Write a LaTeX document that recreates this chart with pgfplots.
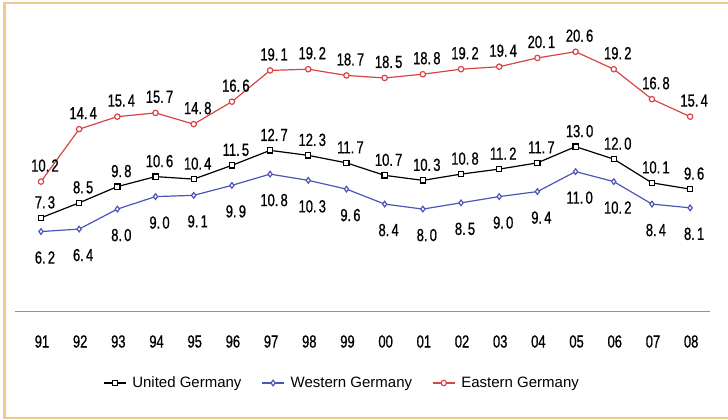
\documentclass[border=0pt]{standalone}
\usepackage{pgfplots}
\pgfplotsset{compat=1.18}
\usepackage{fontspec}
\setmainfont{Liberation Sans}
\newfontfamily\lblfont{Liberation Sans}[FakeStretch=0.74, FakeBold=0.8]
\definecolor{redc}{HTML}{D94444}
\definecolor{bluec}{HTML}{4B56B8}
\definecolor{framec}{HTML}{F1C98E}
\definecolor{axlc}{HTML}{9C8F85}
\begin{document}
\begin{tikzpicture}
\useasboundingbox (0,0) rectangle (728bp,420bp);
\draw[framec, line width=2.6bp] (728bp,2bp) -- (4.7bp,2bp) -- (4.7bp,417bp) -- (728bp,417bp);
\begin{axis}[
  scale only axis, width=695bp, height=302.25bp,
  at={(15bp,108.5bp)}, anchor=south west,
  xmin=-0.68, xmax=17.52, ymin=-0.2, ymax=24,
  axis x line*=bottom, axis y line=none,
  x axis line style={draw=axlc, line width=1bp},
  xtick={0,...,17},
  xticklabels={91,92,93,94,95,96,97,98,99,00,01,02,03,04,05,06,07,08},
  major tick length=0pt, ytick=\empty,
  xticklabel style={font=\lblfont\fontsize{17.5bp}{19bp}\selectfont, anchor=center, yshift=-30bp, xshift=1bp},
  clip=false,
  legend columns=3,
  legend style={at={(0.4705,-0.2366)}, anchor=center, draw=none, fill=none,
    font=\fontsize{15bp}{17bp}\selectfont,
    nodes={inner xsep=2bp},
    /tikz/every odd column/.append style={column sep=4bp},
    /tikz/every even column/.append style={column sep=18bp}},
  legend cell align=left,
  legend image code/.code={\draw[mark repeat=2, mark phase=2, #1] plot coordinates {(0bp,0bp) (11bp,0bp) (22bp,0bp)};},
  nodes near coords={\pgfmathprintnumber[fixed,fixed zerofill,precision=1,assume math mode=true,dec sep={.\hspace{2.2bp}}]{\pgfplotspointmeta}},
  every node near coord/.append style={font=\lblfont\fontsize{17.5bp}{19bp}\selectfont, anchor=center, text=black, xshift=4bp},
]
\addplot[black, line width=1.2bp, mark=square*, mark size=2.6bp, mark options={fill=white, solid},
  every node near coord/.append style={yshift=15.5bp}] coordinates {
 (0,7.3) (1,8.5) (2,9.8) (3,10.6) (4,10.4) (5,11.5) (6,12.7) (7,12.3) (8,11.7)
 (9,10.7) (10,10.3) (11,10.8) (12,11.2) (13,11.7) (14,13.0) (15,12.0) (16,10.1) (17,9.6)};
\addlegendentry{United Germany}
\addplot[bluec, line width=1.2bp, mark=diamond*, mark size=2.8bp, mark options={fill=white, solid},
  every node near coord/.append style={yshift=-26bp}] coordinates {
 (0,6.2) (1,6.4) (2,8.0) (3,9.0) (4,9.1) (5,9.9) (6,10.8) (7,10.3) (8,9.6)
 (9,8.4) (10,8.0) (11,8.5) (12,9.0) (13,9.4) (14,11.0) (15,10.2) (16,8.4) (17,8.1)};
\addlegendentry{Western Germany}
\addplot[redc, line width=1.2bp, mark=*, mark size=2.7bp, mark options={fill=white, solid},
  every node near coord/.append style={yshift=16bp}] coordinates {
 (0,10.2) (1,14.4) (2,15.4) (3,15.7) (4,14.8) (5,16.6) (6,19.1) (7,19.2) (8,18.7)
 (9,18.5) (10,18.8) (11,19.2) (12,19.4) (13,20.1) (14,20.6) (15,19.2) (16,16.8) (17,15.4)};
\addlegendentry{Eastern Germany}
\end{axis}
\end{tikzpicture}
\end{document}
